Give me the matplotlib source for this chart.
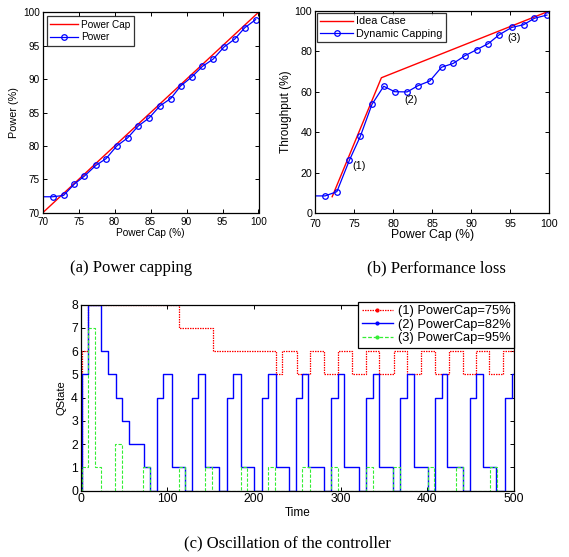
import matplotlib
matplotlib.use('Agg')
import matplotlib.pyplot as plt
from matplotlib.lines import Line2D

plt.rcParams['font.family'] = ['Liberation Sans', 'DejaVu Sans']

# ---------------- data ----------------
# (a) Power capping
cap_line_x = [70, 100]
cap_line_y = [70, 100]
power_x = [70, 71.4, 72.9, 74.4, 75.8, 77.4, 78.8, 80.3, 81.8, 83.3, 84.8,
           86.3, 87.8, 89.2, 90.7, 92.2, 93.7, 95.2, 96.7, 98.1, 99.6]
power_y = [72.4, 72.4, 72.6, 74.3, 75.5, 77.1, 78.1, 80.0, 81.2, 83.0, 84.2,
           86.0, 87.1, 89.0, 90.3, 91.9, 93.0, 94.8, 96.0, 97.7, 98.9]

# (b) Performance loss
ideal_x = [72.2, 78.5, 100]
ideal_y = [8.2, 67.0, 100]
dyn_x = [70, 71.3, 72.8, 74.4, 75.8, 77.3, 78.8, 80.2, 81.8, 83.2, 84.7,
         86.2, 87.7, 89.2, 90.7, 92.2, 93.6, 95.2, 96.7, 98.1, 99.7]
dyn_y = [8.6, 8.6, 10.7, 26.2, 38.0, 53.9, 62.8, 60.1, 60.0, 63.1, 65.4,
         72.2, 74.1, 77.9, 80.9, 83.9, 88.3, 91.9, 93.2, 96.4, 98.0]
annot_text = ['(1)', '(2)', '(3)']
annot_x = [75.6, 82.3, 95.5]
annot_y = [23.5, 56.0, 86.5]

# (c) Oscillation of the controller (step change points)
red_t = [0, 1, 8, 113, 153, 226, 233, 250, 265, 281, 297, 313, 330, 345,
         362, 377, 393, 409, 425, 441, 457, 472, 488, 500]
red_v = [0, 6, 8, 7, 6, 5, 6, 5, 6, 5, 6, 5, 6, 5,
         6, 5, 6, 5, 6, 5, 6, 5, 6, 6]
blue_t = [0, 1, 8, 24, 32, 41, 48, 56, 73, 80,
          88, 95, 105, 121, 129, 136, 144, 160, 169, 176, 185, 200,
          209, 216, 225, 240, 249, 255, 263, 281, 289, 297, 304, 321,
          329, 337, 344, 361, 369, 377, 385, 401, 409, 417, 423, 441,
          449, 457, 464, 480, 490, 498, 500]
blue_v = [0, 5, 8, 6, 5, 4, 3, 2, 1, 0,
          4, 5, 1, 0, 4, 5, 1, 0, 4, 5, 1, 0,
          4, 5, 1, 0, 4, 5, 1, 0, 4, 5, 1, 0,
          4, 5, 1, 0, 4, 5, 1, 0, 4, 5, 1, 0,
          4, 5, 1, 0, 4, 5, 5]
green_t = [0, 1, 8, 16, 23, 40, 48, 72, 80, 113, 121, 144, 152, 185, 192,
           216, 224, 255, 265, 289, 297, 330, 338, 361, 369, 401, 408,
           433, 441, 473, 481, 500]
green_v = [0, 1, 7, 1, 0, 2, 0, 1, 0, 1, 0, 1, 0, 1, 0,
           1, 0, 1, 0, 1, 0, 1, 0, 1, 0, 1, 0,
           1, 0, 1, 0, 0]
series_labels = ['(1) PowerCap=75%', '(2) PowerCap=82%', '(3) PowerCap=95%']

# ---------------- figure ----------------
W, H = 569, 557
fig = plt.figure(figsize=(W / 100, H / 100), dpi=100)


def ax_rect(l, t, r, b):
    return [l / W, 1 - b / H, (r - l) / W, (b - t) / H]


def style(ax, fs, xpad=2):
    ax.tick_params(direction='in', top=True, right=True, labelsize=fs,
                   length=3, width=0.7, pad=2)
    ax.tick_params(axis='x', pad=xpad)
    for s in ax.spines.values():
        s.set_linewidth(0.9)


# (a)
ax1 = fig.add_axes(ax_rect(42.7, 12.3, 258.5, 212.8))
ax1.plot(cap_line_x, cap_line_y, color='#ff0000', lw=1.0, label='Power Cap')
ax1.plot(power_x, power_y, color='#0000ff', lw=0.9, marker='o', ms=4,
         mfc='none', mew=0.9, markevery=list(range(1, len(power_x))),
         label='Power')
ax1.set_xlim(70, 100)
ax1.set_ylim(70, 100)
ax1.set_xticks([70, 75, 80, 85, 90, 95, 100])
ax1.set_yticks([70, 75, 80, 85, 90, 95, 100])
style(ax1, 7.2, xpad=3)
ax1.set_xlabel('Power Cap (%)', fontsize=7.3, labelpad=1)
ax1.set_ylabel('Power (%)', fontsize=7.8, labelpad=3)
leg1 = ax1.legend(loc='upper left', fontsize=7.2, frameon=True, fancybox=False,
                  edgecolor='black', borderaxespad=0.4, handlelength=2.8,
                  borderpad=0.35, labelspacing=0.25, handletextpad=0.3)
leg1.get_frame().set_linewidth(0.9)

# (b)
ax2 = fig.add_axes(ax_rect(315, 11, 549.3, 213.3))
ax2.plot(ideal_x, ideal_y, color='#ff0000', lw=1.0, label='Idea Case')
ax2.plot(dyn_x, dyn_y, color='#0000ff', lw=0.9, marker='o', ms=4,
         mfc='none', mew=0.9, markevery=list(range(1, len(dyn_x))),
         label='Dynamic Capping')
for t, x, y in zip(annot_text, annot_x, annot_y):
    ax2.text(x, y, t, fontsize=7.8, ha='center', va='center')
ax2.set_xlim(70, 100)
ax2.set_ylim(0, 100)
ax2.set_xticks([70, 75, 80, 85, 90, 95, 100])
ax2.set_yticks([0, 20, 40, 60, 80, 100])
style(ax2, 7.7, xpad=4)
ax2.set_xlabel('Power Cap (%)', fontsize=8.8, labelpad=0)
ax2.set_ylabel('Throughput (%)', fontsize=8.6, labelpad=2)
leg2 = ax2.legend(loc='upper left', fontsize=7.8, frameon=True, fancybox=False,
                  edgecolor='black', borderaxespad=0.15, handlelength=3.0,
                  borderpad=0.35, labelspacing=0.2, handletextpad=0.3)
leg2.get_frame().set_linewidth(0.9)

# (c)
ax3 = fig.add_axes(ax_rect(80.7, 304.7, 513.7, 490.7))
ax3.plot(red_t, red_v, color='#ff0000', lw=0.9, ls=(0, (1.2, 0.8)),
         drawstyle='steps-post')
ax3.plot(blue_t, blue_v, color='#0000ff', lw=1.0, drawstyle='steps-post')
ax3.plot(green_t, green_v, color='#33ee33', lw=0.8, ls=(0, (3, 1.5)),
         drawstyle='steps-post')
ax3.set_xlim(0, 500)
ax3.set_ylim(0, 8)
ax3.set_xticks([0, 100, 200, 300, 400, 500])
ax3.set_yticks(range(0, 9))
style(ax3, 8.8)
ax3.set_xlabel('Time', fontsize=8.5, labelpad=1)
ax3.set_ylabel('QState', fontsize=8.0, labelpad=3)
handles = [
    Line2D([], [], color='#ff0000', lw=0.9, ls=(0, (1.2, 0.8)), marker='.', ms=4),
    Line2D([], [], color='#0000ff', lw=1.0, ls='-', marker='.', ms=4),
    Line2D([], [], color='#33ee33', lw=0.9, ls=(0, (3, 1.5)), marker='.', ms=4),
]
leg3 = ax3.legend(handles, series_labels, loc='upper right', fontsize=9.3,
                  frameon=True, fancybox=False, edgecolor='black',
                  borderaxespad=0.0, handlelength=2.4, borderpad=0.25,
                  labelspacing=0.12, handletextpad=0.4, framealpha=1,
                  bbox_to_anchor=(1.0, 1.015))
leg3.get_frame().set_linewidth(0.9)

# captions
cap_font = ['Liberation Serif', 'DejaVu Serif']
fig.text(131 / W, 1 - 268 / H, '(a) Power capping', family=cap_font,
         fontsize=12, ha='center', va='center')
fig.text(436 / W, 1 - 268 / H, '(b) Performance loss', family=cap_font,
         fontsize=12, ha='center', va='center')
fig.text(287 / W, 1 - 543 / H, '(c) Oscillation of the controller',
         family=cap_font, fontsize=12, ha='center', va='center')

fig.savefig('out.png', dpi=100)
